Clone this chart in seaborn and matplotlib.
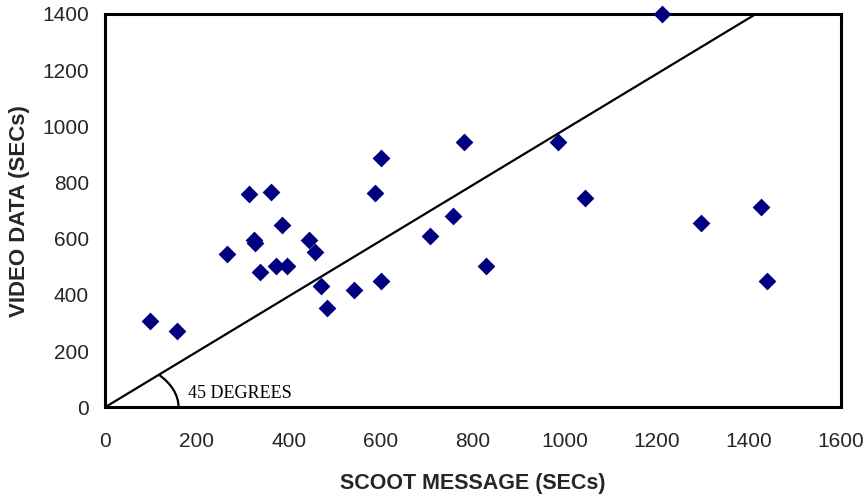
import matplotlib
matplotlib.use("Agg")
import matplotlib.pyplot as plt
from matplotlib.patches import Arc
import pandas as pd
import seaborn as sns

# SCOOT message time vs video observed time (seconds)
scoot_secs = [98, 157, 266, 313, 362, 385, 325, 326, 444, 457, 337, 372, 396, 469, 482,
              601, 780, 588, 756, 707, 829, 601, 541, 984, 1044, 1296, 1427, 1439, 1212]
video_secs = [307, 272, 545, 760, 767, 650, 597, 585, 594, 552, 481, 503, 503, 433, 353,
              888, 944, 762, 681, 610, 504, 450, 416, 944, 745, 656, 712, 449, 1400]

# 45 degree reference line
ref_x = [0, 1415]
ref_y = [0, 1400]

x_ticks = [0, 200, 400, 600, 800, 1000, 1200, 1400, 1600]
y_ticks = [0, 200, 400, 600, 800, 1000, 1200, 1400]

df = pd.DataFrame({"scoot": scoot_secs, "video": video_secs})

sns.set_style("white")
plt.rcParams["font.family"] = ["Liberation Sans", "DejaVu Sans"]

fig = plt.figure(figsize=(8.66, 4.96), dpi=100)
ax = fig.add_axes([0.1212, 0.1788, 0.8499, 0.793])

ax.plot(ref_x, ref_y, color="black", linewidth=1.6, zorder=2)
sns.scatterplot(data=df, x="scoot", y="video", ax=ax, marker="D", s=82,
                color="#000080", linewidth=0, zorder=3, clip_on=False)

ax.add_patch(Arc((0, 0), width=320, height=340, theta1=0, theta2=45,
                 color="black", linewidth=1.6))
ax.text(180, 33, "45 DEGREES", family=["Liberation Serif", "DejaVu Serif"],
        fontsize=13, color="black")

ax.set_xlim(0, 1600)
ax.set_ylim(0, 1400)
ax.set_xticks(x_ticks)
ax.set_yticks(y_ticks)

for side in ["left", "bottom", "top", "right"]:
    ax.spines[side].set_visible(True)
    ax.spines[side].set_color("black")
    ax.spines[side].set_linewidth(2.2)

ax.tick_params(axis="x", direction="inout", length=7, width=1, color="#333333",
               labelsize=15, pad=14)
ax.tick_params(axis="y", direction="inout", length=7, width=1, color="#333333",
               labelsize=15, pad=8)

ax.set_xlabel("SCOOT MESSAGE (SECs)", fontsize=15.5, fontweight="bold", labelpad=16)
ax.set_ylabel("VIDEO DATA (SECs)", fontsize=16, fontweight="bold", labelpad=9)

fig.savefig("out.png", dpi=100)
